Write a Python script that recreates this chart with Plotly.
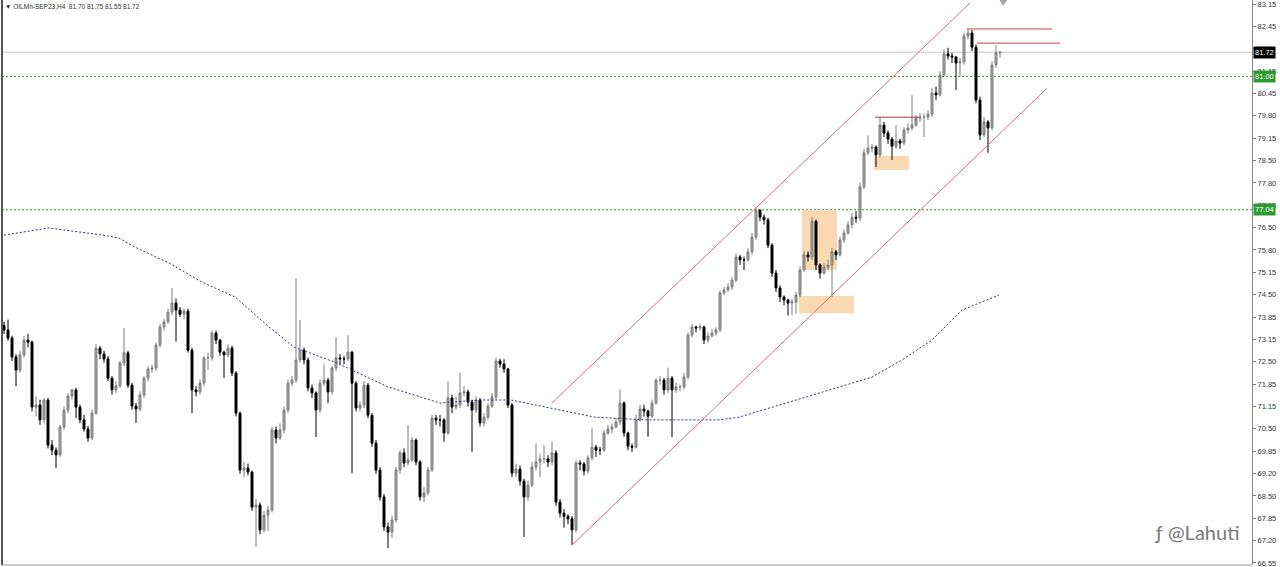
import plotly.graph_objects as go

# ---------------- data ----------------
first_open = 73.60
closes = [73.47, 73.23, 72.67, 72.28, 72.73, 73.17, 73.11, 71.18, 71.24, 70.80,
          71.39, 70.05, 69.90, 69.76, 70.59, 71.09, 71.51, 71.69, 71.18, 70.80,
          70.53, 70.26, 71.00, 72.93, 72.76, 72.61, 72.04, 71.69, 71.81, 72.49,
          72.79, 71.83, 71.21, 71.12, 71.54, 72.04, 72.31, 72.34, 73.02, 73.56,
          73.71, 74.00, 74.27, 74.06, 73.94, 74.03, 72.87, 71.69, 71.63, 71.89,
          72.64, 72.64, 73.38, 73.17, 72.81, 72.73, 72.93, 72.19, 71.00, 69.31,
          69.37, 69.25, 68.21, 68.27, 67.53, 67.97, 68.12, 70.50, 70.26, 70.50,
          71.09, 71.89, 71.98, 72.58, 72.87, 72.58, 71.75, 71.60, 71.09, 71.89,
          71.98, 71.63, 72.34, 72.64, 72.61, 72.61, 72.81, 71.89, 71.15, 71.24,
          71.83, 70.94, 70.11, 69.31, 68.51, 67.62, 67.47, 67.83, 69.31, 69.82,
          69.52, 69.61, 70.20, 69.55, 68.51, 68.63, 69.31, 70.85, 70.80, 70.80,
          70.41, 71.45, 71.18, 71.24, 71.60, 71.63, 71.33, 71.09, 71.39, 70.71,
          70.88, 71.21, 71.48, 72.55, 72.46, 72.31, 71.24, 69.22, 69.34, 68.98,
          68.51, 68.86, 69.40, 69.55, 69.64, 69.64, 69.55, 69.82, 68.36, 68.03,
          67.94, 67.86, 67.53, 69.52, 69.49, 69.28, 69.67, 69.99, 69.90, 69.90,
          70.41, 70.53, 70.59, 70.74, 71.30, 70.41, 70.02, 69.99, 70.80, 71.12,
          71.06, 70.91, 71.30, 71.98, 71.98, 71.69, 72.04, 71.69, 71.78, 71.78,
          72.07, 73.32, 73.56, 73.53, 73.56, 73.17, 73.29, 73.38, 73.47, 74.57,
          74.66, 74.75, 74.95, 75.64, 75.55, 75.55, 75.79, 76.23, 77.03, 76.82,
          76.74, 75.99, 75.16, 74.72, 74.45, 74.36, 74.27, 74.30, 74.51, 75.25,
          75.70, 75.64, 76.70, 75.40, 75.16, 75.34, 75.40, 75.79, 75.70, 76.14,
          76.35, 76.59, 76.82, 76.79, 77.72, 78.73, 78.87, 78.90, 78.67, 79.56,
          79.32, 79.14, 78.93, 79.08, 79.02, 79.41, 79.47, 79.56, 79.76, 79.79,
          79.79, 79.88, 80.51, 80.45, 81.04, 81.67, 81.61, 81.58, 81.40, 81.43,
          82.20, 82.29, 81.87, 80.30, 79.26, 79.65, 79.47, 81.34, 81.70, 81.72]

highs = [73.72, 73.78, 73.30, 72.75, 72.85, 73.30, 73.35, 73.15, 71.50, 71.40,
         71.45, 71.45, 70.20, 69.98, 70.65, 71.20, 71.60, 71.72, 71.75, 71.25,
         70.95, 70.62, 71.10, 73.05, 73.00, 72.85, 72.70, 72.10, 71.95, 72.55,
         73.53, 72.85, 71.90, 71.30, 71.65, 72.10, 72.40, 72.45, 73.10, 73.65,
         73.80, 74.10, 74.72, 74.40, 74.15, 74.10, 74.10, 72.95, 71.80, 72.00,
         72.70, 72.80, 73.45, 73.45, 73.20, 72.85, 73.05, 73.00, 72.25, 71.05,
         69.55, 69.50, 69.30, 68.45, 68.35, 68.10, 68.25, 70.60, 70.60, 70.70,
         71.20, 72.00, 72.10, 75.00, 73.77, 72.95, 72.65, 71.85, 71.65, 72.00,
         72.45, 72.05, 72.40, 73.26, 72.75, 72.70, 73.32, 72.85, 71.95, 71.35,
         71.95, 71.90, 71.00, 70.20, 69.40, 68.60, 67.75, 67.95, 69.40, 69.90,
         69.95, 70.65, 70.30, 70.25, 69.60, 68.80, 69.40, 70.95, 70.95, 70.95,
         70.85, 71.95, 71.55, 71.50, 72.20, 71.80, 71.70, 71.40, 71.50, 71.45,
         71.00, 71.30, 71.60, 72.65, 72.62, 72.60, 72.35, 71.30, 69.50, 69.45,
         69.05, 69.00, 69.55, 70.10, 69.80, 70.05, 69.75, 70.15, 69.90, 68.45,
         68.15, 68.00, 67.95, 69.60, 69.60, 69.55, 69.75, 70.55, 70.05, 70.00,
         70.50, 70.65, 70.70, 70.85, 71.70, 71.35, 70.45, 70.10, 70.95, 71.25,
         71.25, 71.10, 71.40, 72.05, 72.10, 72.05, 72.35, 72.10, 71.90, 71.85,
         72.20, 73.40, 73.65, 73.60, 73.65, 73.60, 73.40, 73.50, 73.55, 74.65,
         74.75, 74.85, 75.05, 75.75, 75.70, 75.65, 75.90, 76.35, 77.12, 77.05,
         76.90, 76.80, 76.05, 75.25, 74.80, 74.50, 74.40, 74.40, 74.60, 75.35,
         75.80, 75.80, 76.82, 76.75, 75.45, 75.45, 75.55, 75.90, 75.85, 76.25,
         76.45, 76.70, 76.95, 77.00, 77.85, 78.85, 79.25, 79.00, 78.95, 79.79,
         79.65, 79.40, 79.20, 79.55, 79.15, 79.50, 79.60, 80.45, 79.85, 79.90,
         79.90, 80.00, 80.65, 80.70, 81.15, 81.80, 81.85, 81.70, 81.60, 81.55,
         82.30, 82.41, 82.38, 81.95, 80.40, 79.80, 79.70, 81.45, 81.93, 81.75]

lows = [73.35, 73.15, 72.55, 71.80, 72.20, 72.65, 72.95, 71.05, 70.90, 70.65,
        70.70, 69.95, 69.75, 69.37, 69.70, 70.50, 71.00, 71.40, 70.85, 70.70,
        70.45, 70.15, 70.20, 70.95, 72.60, 72.50, 71.95, 71.55, 71.60, 71.75,
        72.40, 71.75, 71.10, 70.71, 71.05, 71.45, 71.95, 72.20, 72.25, 72.95,
        73.45, 73.65, 73.90, 73.12, 73.85, 73.80, 72.80, 71.00, 71.50, 71.55,
        71.80, 72.28, 72.55, 73.05, 72.70, 72.05, 72.65, 72.10, 70.90, 69.20,
        69.10, 69.15, 68.10, 67.02, 67.40, 67.45, 67.50, 68.05, 70.10, 70.20,
        70.40, 71.00, 71.80, 71.90, 72.50, 72.45, 71.65, 71.45, 70.29, 71.00,
        71.80, 71.30, 71.55, 72.25, 72.45, 72.45, 72.55, 69.22, 71.05, 71.05,
        71.15, 70.85, 70.00, 69.20, 68.40, 67.50, 66.99, 67.30, 67.75, 69.20,
        69.40, 69.45, 69.55, 69.45, 68.40, 68.35, 68.55, 69.25, 70.65, 70.60,
        70.15, 70.35, 71.00, 71.10, 71.15, 71.50, 71.20, 69.85, 71.00, 70.60,
        70.60, 70.80, 71.15, 71.40, 72.35, 72.20, 71.15, 69.10, 69.10, 68.85,
        67.32, 68.40, 68.80, 69.30, 69.10, 69.50, 69.40, 69.45, 68.25, 67.90,
        67.60, 67.70, 67.08, 67.45, 69.30, 69.15, 69.20, 69.60, 69.70, 69.75,
        69.85, 70.35, 70.40, 70.55, 70.65, 70.30, 69.90, 69.85, 69.95, 70.75,
        70.90, 70.30, 70.85, 71.25, 71.85, 71.55, 71.60, 70.29, 71.60, 71.65,
        71.70, 72.00, 73.25, 73.40, 73.45, 73.05, 73.10, 73.25, 73.30, 73.40,
        74.50, 74.60, 74.65, 74.90, 75.40, 75.25, 75.50, 75.70, 76.15, 76.70,
        76.60, 75.90, 75.05, 74.60, 74.30, 74.20, 73.90, 73.91, 73.95, 74.45,
        75.20, 75.50, 75.55, 75.25, 75.00, 75.10, 75.25, 74.45, 75.55, 75.65,
        76.05, 76.30, 76.50, 76.65, 76.70, 77.65, 78.65, 78.75, 78.31, 78.60,
        79.20, 79.00, 78.52, 78.85, 78.85, 78.95, 79.30, 79.40, 79.50, 79.65,
        79.20, 79.70, 79.80, 80.30, 80.40, 81.00, 81.50, 81.40, 80.60, 80.98,
        81.35, 82.10, 81.75, 80.20, 79.11, 79.20, 78.73, 79.40, 81.25, 81.55]

# moving average (dotted line), sampled at bar positions
ma_bar = [0, 11.25, 24.5, 28.75, 32.75, 41.25, 49.5, 57.75, 66.25, 72.5, 83.25, 96,
          109, 118.75, 126.75, 136.25, 147.75, 160.5, 178.75, 183.75, 195.25,
          203.75, 212, 217, 224.5, 232, 239.5, 248.75]
ma_val = [76.29, 76.50, 76.29, 76.20, 75.93, 75.46, 74.89, 74.45, 73.56, 72.96, 72.49,
          71.78, 71.30, 71.39, 71.39, 71.15, 70.88, 70.80, 70.80, 70.88, 71.30,
          71.60, 71.89, 72.07, 72.58, 73.17, 74.06, 74.51]

# price-axis labels ("81.80" sits entirely under the 81.72 price box in the reference)
tick_labels = ["83.15", "82.45", "", "81.15", "80.45", "79.80", "79.15", "78.50",
               "77.80", "77.15", "76.50", "75.80", "75.15", "74.50", "73.85", "73.15",
               "72.50", "71.85", "71.15", "70.50", "69.85", "69.20", "68.50", "67.85",
               "67.20", "66.55"]
axis_top, axis_bottom = 83.15, 66.55

# drawn objects (bar index, price)
channel_lines = [((137, 71.30), (241.5, 83.18)), ((142, 67.08), (260.75, 80.65))]
red_levels = [((240.75, 82.41), (262, 82.41)), ((243.25, 81.99), (264, 81.99))]
short_level = ((217.75, 79.79), (228.75, 79.79))
zones = [((199.5, 75.25), (208.25, 77.03)), ((198.75, 73.97), (212.5, 74.48)),
         ((217.5, 78.22), (226.25, 78.64))]
green_levels = [81.00, 77.04]
last_price = 81.72
title_text = "▼ OILMn-SEP23,H4  81.70 81.75 81.55 81.72"

# ---------------- figure ----------------
n = len(closes)
xs = list(range(n))
opens = [first_open] + closes[:-1]

fig = go.Figure()

shapes = []
for (x0, y0), (x1, y1) in zones:
    shapes.append(dict(type="rect", xref="x", yref="y", x0=x0, x1=x1, y0=y0, y1=y1,
                       fillcolor="#F9D9B2", line=dict(width=0), layer="below"))
shapes.append(dict(type="line", xref="paper", yref="y", x0=0, x1=1, y0=last_price, y1=last_price,
                   line=dict(color="#C8C8C8", width=1), layer="below"))
for g in green_levels:
    shapes.append(dict(type="line", xref="paper", yref="y", x0=0, x1=1, y0=g, y1=g,
                       line=dict(color="#2E9B2E", width=1, dash="2px,2px"), layer="below"))
for (x0, y0), (x1, y1) in channel_lines:
    shapes.append(dict(type="line", xref="x", yref="y", x0=x0, y0=y0, x1=x1, y1=y1,
                       line=dict(color="#E06A78", width=1)))
for (x0, y0), (x1, y1) in red_levels:
    shapes.append(dict(type="line", xref="x", yref="y", x0=x0, y0=y0, x1=x1, y1=y1,
                       line=dict(color="#D0404E", width=1)))
(x0, y0), (x1, y1) = short_level
shapes.append(dict(type="line", xref="x", yref="y", x0=x0, y0=y0, x1=x1, y1=y1,
                   line=dict(color="#A03A48", width=1)))
shapes.append(dict(type="line", xref="paper", yref="paper", x0=0, x1=0, y0=0, y1=1,
                   line=dict(color="#555555", width=2)))
shapes.append(dict(type="line", xref="paper", yref="paper", x0=0, x1=1, y0=0, y1=0,
                   line=dict(color="#999999", width=1)))
# chart-shift marker at the top
shapes.append(dict(type="path", xref="x", yref="paper",
                   path="M 249 1 L 250.6 1 L 249.8 0.991 Z",
                   line=dict(color="#9A9A9A", width=1), fillcolor="#B0B0B0"))

fig.add_trace(go.Scatter(x=ma_bar, y=ma_val, mode="lines",
                         line=dict(color="#27337F", width=1, dash="2px,2px"),
                         hoverinfo="skip", showlegend=False))

fig.add_trace(go.Candlestick(
    x=xs, open=opens, high=highs, low=lows, close=closes,
    increasing=dict(line=dict(color="#7C7C7C", width=1), fillcolor="#A8A8A8"),
    decreasing=dict(line=dict(color="#000000", width=1), fillcolor="#000000"),
    whiskerwidth=0, showlegend=False))

step = (axis_top - axis_bottom) / (len(tick_labels) - 1)
tickvals = [axis_top - k * step for k in range(len(tick_labels))]

annotations = [
    dict(text=title_text, xref="paper", yref="paper", x=0.001, y=0.999, xanchor="left",
         yanchor="top", showarrow=False, font=dict(family="Liberation Sans", size=6.5, color="#333333")),
    dict(text=f"{last_price:.2f}", xref="paper", yref="y", x=1, y=last_price, xanchor="left",
         xshift=1, showarrow=False, bgcolor="#000000", borderpad=1,
         font=dict(family="Liberation Sans", size=7.5, color="#FFFFFF")),
]
for g in green_levels:
    annotations.append(dict(text=f"{g:.2f}", xref="paper", yref="y", x=1, y=g, xanchor="left",
                            xshift=1, showarrow=False, bgcolor="#2E9B2E", borderpad=1,
                            font=dict(family="Liberation Sans", size=7.5, color="#FFFFFF")))
annotations.append(dict(text="ƒ @Lahuti", xref="paper", yref="paper", x=0.991, y=0.058,
                        xanchor="right", yanchor="middle", showarrow=False,
                        font=dict(family="Lato", size=20, color="#7A7A7A")))

fig.update_layout(
    width=1280, height=567,
    margin=dict(l=2, r=28, t=0, b=2),
    paper_bgcolor="white", plot_bgcolor="white",
    shapes=shapes, annotations=annotations,
    showlegend=False, hovermode=False,
    xaxis=dict(range=[-0.5, 312], showgrid=False, zeroline=False, showticklabels=False,
               rangeslider=dict(visible=False), fixedrange=True),
    yaxis=dict(side="right", range=[66.49, 83.27], showgrid=False, zeroline=False,
               tickvals=tickvals, ticktext=tick_labels, ticks="outside", ticklen=3,
               tickcolor="#777777", showline=True, linecolor="#888888", linewidth=1,
               ticklabeloverflow="allow",
               tickfont=dict(family="Liberation Sans", size=7.5, color="#333333"),
               fixedrange=True),
)

fig.write_html("out.html", config={"displayModeBar": False, "staticPlot": True},
               post_script="document.body.style.margin='0';")
